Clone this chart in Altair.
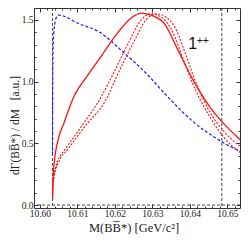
import altair as alt
import pandas as pd

# ---- data ----
blue_x = [10.60338, 10.60342, 10.60350, 10.60370, 10.60400, 10.60440, 10.60490, 10.6060,
          10.6100, 10.6160, 10.6222, 10.6289, 10.6340, 10.6407, 10.6487, 10.6534]
blue_y = [0.41, 0.90, 1.20, 1.38, 1.47, 1.52, 1.54, 1.535,
          1.475, 1.40, 1.24, 1.05, 0.88, 0.68, 0.51, 0.435]

solid_x = [10.60340, 10.60355, 10.6039, 10.6048, 10.6065, 10.6091, 10.6125, 10.6160, 10.6211,
           10.6245, 10.6271, 10.6300, 10.6332, 10.6366, 10.6409, 10.6452, 10.6490, 10.6534]
solid_y = [0.05, 0.22, 0.36, 0.52, 0.67, 0.88, 1.04, 1.19, 1.41,
           1.52, 1.556, 1.535, 1.47, 1.27, 1.01, 0.80, 0.66, 0.53]

dot1_x = [10.60340, 10.6036, 10.6040, 10.6048, 10.6065, 10.6108, 10.6164, 10.6190, 10.6237,
          10.6270, 10.6297, 10.6325, 10.6353, 10.6380, 10.6405, 10.6452, 10.6490, 10.6534]
dot1_y = [0.15, 0.22, 0.28, 0.36, 0.44, 0.625, 0.88, 1.03, 1.32,
          1.50, 1.55, 1.52, 1.41, 1.20, 1.00, 0.72, 0.55, 0.425]

dot2_x = [10.60340, 10.6036, 10.6039, 10.6052, 10.6074, 10.6117, 10.6181, 10.6203, 10.6250,
          10.6283, 10.6310, 10.6338, 10.6365, 10.6390, 10.6415, 10.6452, 10.6490, 10.6534]
dot2_y = [0.10, 0.18, 0.24, 0.36, 0.45, 0.625, 0.88, 1.03, 1.32,
          1.50, 1.55, 1.52, 1.41, 1.21, 1.00, 0.76, 0.60, 0.476]

thresholds = [10.6034, 10.6485]
zero_line = [0.0]

x_ticks = [10.60, 10.61, 10.62, 10.63, 10.64, 10.65]
x_minor = [round(10.598 + 0.002 * i, 3) for i in range(28)]
y_ticks = [0.0, 0.5, 1.0, 1.5]
y_minor = [round(0.1 * i, 1) for i in range(16)]

label_text = ["1"]
label_x = [10.63956]
label_y = [1.2665]
sup_text = ["++"]
sup_x = [10.6418]
sup_y = [1.309]

SERIF = "Liberation Serif"
xs = alt.Scale(domain=[10.59845, 10.65335], nice=False, zero=False)
ys = alt.Scale(domain=[-0.024, 1.597], nice=False, zero=False)

common = dict(domain=False, grid=False, tickColor="#333", tickWidth=1,
              labelFlush=False, labelOverlap=False)


def make_axis(orient, values, size, labels, **kw):
    return alt.Axis(orient=orient, values=values, tickSize=size, offset=-size,
                    labels=labels, **common, **kw)


ax_x_main = make_axis("bottom", x_ticks, 4, True, format=".2f", labelPadding=0,
                      labelFont=SERIF, labelFontSize=9.5, labelColor="#222",
                      title="M(BB\u0305*) [GeV/c\u00b2]", titleFont=SERIF, titleFontSize=12.5,
                      titleFontWeight="normal", titleColor="#222", titleX=99.6, titleY=27,
                      titleBaseline="alphabetic", titleAlign="center")
ax_y_main = make_axis("left", y_ticks, 4, True, format=".1f", labelPadding=1,
                      labelFont=SERIF, labelFontSize=9.5, labelColor="#222",
                      title="d\u0393(BB\u0305*) / dM\u00a0\u00a0\u00a0[a.u.]", titleFont=SERIF,
                      titleFontSize=11.5, titleFontWeight="normal", titleColor="#222",
                      titleX=-19.5, titleY=117, titleBaseline="alphabetic",
                      titleAlign="center", titleAngle=270)
ax_x_minor = make_axis("bottom", x_minor, 2, False, title=None)
ax_y_minor = make_axis("left", y_minor, 2, False, title=None)
ax_x_top = make_axis("top", x_ticks, 4, False, title=None)
ax_y_right = make_axis("right", y_ticks, 4, False, title=None)
ax_x_top_m = make_axis("top", x_minor, 2, False, title=None)
ax_y_right_m = make_axis("right", y_minor, 2, False, title=None)


def curve(xv, yv, color, dash, width, axx, axy):
    df = pd.DataFrame({"m": xv, "v": yv})
    kw = dict(color=color, strokeWidth=width, interpolate="monotone", clip=True)
    if dash:
        kw["strokeDash"] = dash
    return alt.Chart(df).mark_line(**kw).encode(
        x=alt.X("m:Q", scale=xs, axis=axx),
        y=alt.Y("v:Q", scale=ys, axis=axy),
    )


blue = curve(blue_x, blue_y, "#1a1aff", [3, 2], 1.2, ax_x_main, ax_y_main)
solid = curve(solid_x, solid_y, "#ff1010", None, 1.3, ax_x_minor, ax_y_minor)
dot1 = curve(dot1_x, dot1_y, "#ff1010", [2, 1.5], 1.1, ax_x_top, ax_y_right)
dot2 = curve(dot2_x, dot2_y, "#ff1010", [2, 1.5], 1.1, ax_x_top_m, ax_y_right_m)

vrules = alt.Chart(pd.DataFrame({"m": thresholds})).mark_rule(
    color="#333", strokeDash=[3, 2], strokeWidth=0.9
).encode(x=alt.X("m:Q", scale=xs, axis=None))

hrule = alt.Chart(pd.DataFrame({"v": zero_line})).mark_rule(
    color="#333", strokeDash=[3, 2], strokeWidth=0.9
).encode(y=alt.Y("v:Q", scale=ys, axis=None))

lab = alt.Chart(pd.DataFrame({"m": label_x, "v": label_y, "t": label_text})).mark_text(
    font="Liberation Sans", fontSize=16, align="left", baseline="alphabetic", color="#111"
).encode(x=alt.X("m:Q", scale=xs, axis=None), y=alt.Y("v:Q", scale=ys, axis=None), text="t:N")

sup = alt.Chart(pd.DataFrame({"m": sup_x, "v": sup_y, "t": sup_text})).mark_text(
    font="Liberation Sans", fontSize=10.5, align="left", baseline="alphabetic", color="#111"
).encode(x=alt.X("m:Q", scale=xs, axis=None), y=alt.Y("v:Q", scale=ys, axis=None), text="t:N")

chart = alt.layer(hrule, vrules, blue, dot1, dot2, solid, lab, sup).resolve_axis(
    x="independent", y="independent"
).properties(
    width=206, height=200,
    autosize=alt.AutoSizeParams(type="none"),
    padding={"left": 26, "top": 0, "right": 1, "bottom": 26},
).configure_view(stroke="#333", strokeWidth=1)

chart.save("out.html", embed_options={"renderer": "svg", "actions": False})
